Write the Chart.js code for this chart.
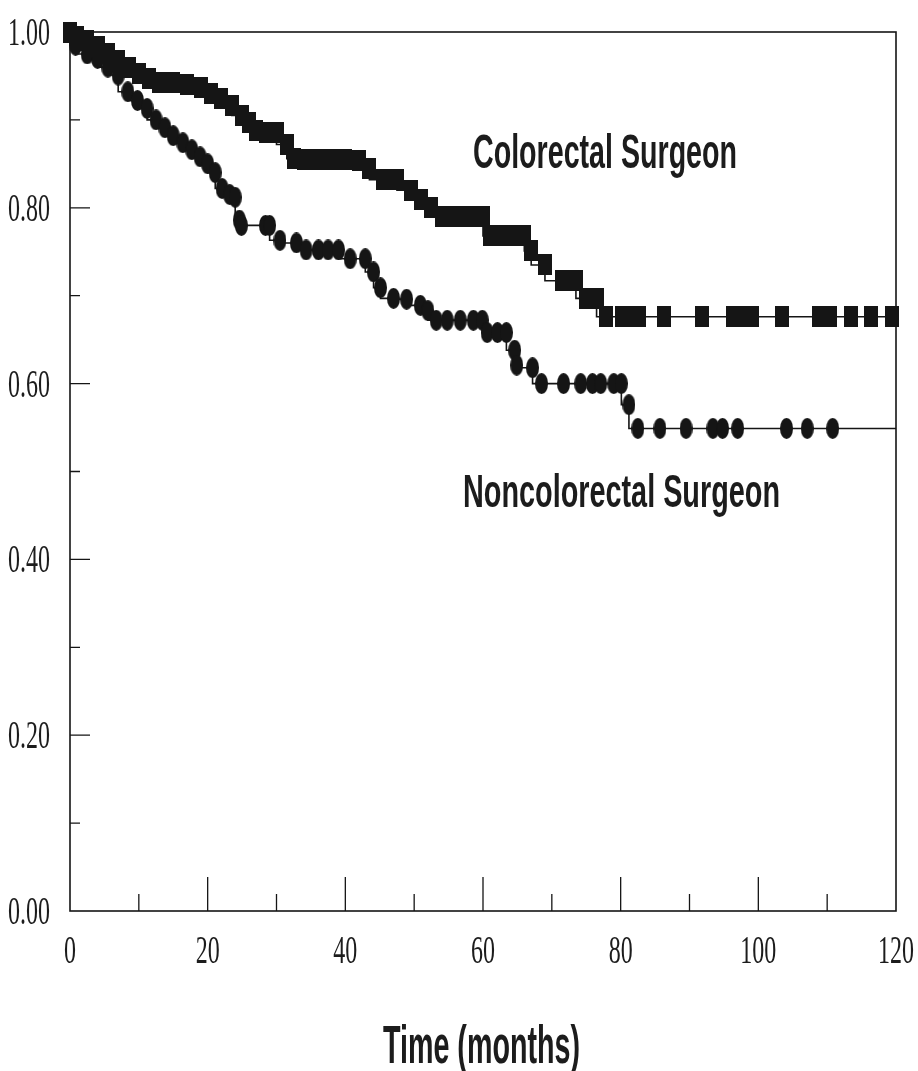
<!DOCTYPE html>
<html>
<head>
<meta charset="utf-8">
<script src="https://cdn.jsdelivr.net/npm/chart.js@4/dist/chart.umd.min.js"></script>
<style>
html,body{margin:0;padding:0;background:#fff;}
#wrap{width:918px;height:1071px;position:relative;}
</style>
</head>
<body>
<div id="wrap"><canvas id="c"></canvas></div>
<script>
// ---- data ----
const colorectalTime = [0, 1.0, 2.5, 4.0, 5.5, 7.0, 8.5, 10.0, 11.5, 13.0, 15.0, 17.0, 19.0, 20.5, 22.0, 23.5, 25.0, 26.0, 27.0, 28.5, 30.0, 31.5, 32.5, 34.0, 36.0, 38.0, 40.0, 42.0, 43.5, 45.5, 47.5, 49.5, 51.0, 52.5, 54.0, 55.5, 57.0, 58.5, 60.0, 61.0, 62.5, 64.5, 66.0, 67.0, 69.0, 71.5, 73.5, 75.0, 76.5, 77.8, 80.2, 81.5, 82.7, 86.3, 91.8, 96.3, 97.7, 99.1, 103.4, 108.8, 110.4, 113.5, 116.4, 119.4];
const colorectalSurv = [1.0, 0.995, 0.99, 0.983, 0.975, 0.968, 0.96, 0.953, 0.947, 0.943, 0.942, 0.94, 0.937, 0.93, 0.924, 0.916, 0.905, 0.897, 0.888, 0.886, 0.886, 0.872, 0.856, 0.855, 0.855, 0.855, 0.855, 0.854, 0.845, 0.832, 0.832, 0.82, 0.81, 0.80, 0.79, 0.79, 0.79, 0.79, 0.79, 0.768, 0.768, 0.768, 0.768, 0.751, 0.735, 0.717, 0.717, 0.697, 0.697, 0.676, 0.676, 0.676, 0.676, 0.676, 0.676, 0.676, 0.676, 0.676, 0.676, 0.676, 0.676, 0.676, 0.676, 0.676];
const noncolorectalTime = [0, 0.8, 2.5, 4.0, 5.5, 7.0, 8.4, 9.8, 11.2, 12.5, 13.8, 15.0, 16.4, 17.7, 18.9, 20.0, 21.1, 22.1, 23.2, 24.0, 24.6, 24.9, 28.4, 29.0, 30.5, 32.9, 34.3, 36.1, 37.5, 39.0, 40.7, 42.9, 44.1, 45.1, 47.0, 48.9, 50.9, 52.0, 53.2, 54.8, 56.7, 58.6, 59.9, 60.6, 62.1, 63.4, 64.6, 64.9, 67.2, 68.5, 71.7, 74.2, 75.9, 77.1, 79.0, 80.1, 81.2, 82.5, 85.7, 89.5, 93.4, 94.8, 97.0, 104.1, 107.1, 110.8, 120];
const noncolorectalSurv = [1.0, 0.985, 0.975, 0.97, 0.96, 0.951, 0.932, 0.922, 0.913, 0.90, 0.891, 0.882, 0.874, 0.866, 0.858, 0.85, 0.84, 0.822, 0.815, 0.812, 0.786, 0.78, 0.78, 0.78, 0.763, 0.76, 0.752, 0.752, 0.752, 0.752, 0.742, 0.742, 0.727, 0.709, 0.697, 0.696, 0.689, 0.683, 0.672, 0.672, 0.672, 0.672, 0.672, 0.658, 0.658, 0.658, 0.638, 0.621, 0.618, 0.60, 0.60, 0.60, 0.60, 0.60, 0.60, 0.60, 0.576, 0.549, 0.549, 0.549, 0.549, 0.549, 0.549, 0.549, 0.549, 0.549, 0.549];
const seriesNames = ['Colorectal Surgeon', 'Noncolorectal Surgeon'];
const xTickValues = [0, 20, 40, 60, 80, 100, 120];
const xTickLabels = ['0', '20', '40', '60', '80', '100', '120'];
const xMinorValues = [10, 30, 50, 70, 90, 110];
const yTickValues = [0, 0.2, 0.4, 0.6, 0.8, 1.0];
const yTickLabels = ['0.00', '0.20', '0.40', '0.60', '0.80', '1.00'];
const yMinorValues = [0.1, 0.3, 0.5, 0.7, 0.9];
const xAxisTitle = 'Time (months)';

// ---- marker images ----
const INK = '#151515';
function makeMarker(w, h, round) {
  const c = document.createElement('canvas');
  c.width = w; c.height = h;
  const g = c.getContext('2d');
  g.fillStyle = INK;
  if (round) { g.beginPath(); g.ellipse(w/2, h/2, w/2, h/2, 0, 0, Math.PI*2); g.fill(); }
  else g.fillRect(0, 0, w, h);
  return c;
}
const squareMark = makeMarker(14, 21, false);
const roundMark = makeMarker(13, 21, true);

function pts(ts, ss) { return ts.map((t, i) => ({x: t, y: ss[i]})); }

function drawScaled(ctx, text, x, y, font, sx, align) {
  ctx.save();
  ctx.font = font;
  ctx.translate(x, y);
  ctx.scale(sx, 1);
  ctx.textAlign = align;
  ctx.textBaseline = 'alphabetic';
  ctx.fillText(text, 0, 0);
  ctx.restore();
}
function drawFit(ctx, text, x, y, font, width) {
  ctx.save();
  ctx.font = font;
  const w = ctx.measureText(text).width;
  ctx.translate(x, y);
  ctx.scale(width / w, 1);
  ctx.textAlign = 'left';
  ctx.textBaseline = 'alphabetic';
  ctx.fillText(text, 0, 0);
  ctx.restore();
}

const framePlugin = {
  id: 'frame',
  beforeDatasetsDraw(chart) {
    const {ctx, chartArea: a, scales: {x, y}} = chart;
    ctx.save();
    ctx.strokeStyle = INK;
    ctx.lineWidth = 1.6;
    ctx.strokeRect(a.left, a.top, a.right - a.left, a.bottom - a.top);
    ctx.lineWidth = 1.3;
    ctx.beginPath();
    yTickValues.forEach(v => { if (v > 0 && v < 1) { const p = y.getPixelForValue(v); ctx.moveTo(a.left, p); ctx.lineTo(a.left + 20, p); } });
    yMinorValues.forEach(v => { const p = y.getPixelForValue(v); ctx.moveTo(a.left, p); ctx.lineTo(a.left + 10, p); });
    xTickValues.forEach(v => { if (v > 0 && v < 120) { const p = x.getPixelForValue(v); ctx.moveTo(p, a.bottom); ctx.lineTo(p, a.bottom - 34); } });
    xMinorValues.forEach(v => { const p = x.getPixelForValue(v); ctx.moveTo(p, a.bottom); ctx.lineTo(p, a.bottom - 17); });
    ctx.stroke();
    ctx.restore();
  },
  afterDatasetsDraw(chart) {
    const {ctx, chartArea: a, scales: {x, y}} = chart;
    ctx.save();
    ctx.fillStyle = '#1c1c1c';
    const serifY = '40px "Liberation Serif", "Times New Roman", serif';
    yTickValues.forEach((v, i) => {
      drawScaled(ctx, yTickLabels[i], a.left - 20, y.getPixelForValue(v) + 13, serifY, 0.6, 'right');
    });
    const serifX = '40px "Liberation Serif", "Times New Roman", serif';
    xTickValues.forEach((v, i) => {
      drawScaled(ctx, xTickLabels[i], x.getPixelForValue(v), a.bottom + 52, serifX, 0.6, 'center');
    });
    drawFit(ctx, seriesNames[0], 473, 168, 'bold 49px "Liberation Sans", Arial, sans-serif', 264);
    drawFit(ctx, seriesNames[1], 463, 507, 'bold 47px "Liberation Sans", Arial, sans-serif', 317);
    drawFit(ctx, xAxisTitle, 383, 1063, 'bold 54px "Liberation Sans", Arial, sans-serif', 197);
    ctx.restore();
  }
};

const nNon = noncolorectalTime.length;
new Chart(document.getElementById('c'), {
  type: 'line',
  data: {
    datasets: [
      {
        label: seriesNames[0],
        data: pts(colorectalTime, colorectalSurv),
        stepped: 'after',
        borderColor: INK,
        borderWidth: 1.6,
        pointStyle: squareMark,
        pointRadius: 7,
        fill: false,
        clip: false
      },
      {
        label: seriesNames[1],
        data: pts(noncolorectalTime, noncolorectalSurv),
        stepped: 'after',
        borderColor: INK,
        borderWidth: 1.6,
        pointStyle: roundMark,
        pointRadius: c => (c.dataIndex === nNon - 1 ? 0 : 7),
        fill: false,
        clip: false
      }
    ]
  },
  options: {
    responsive: true,
    maintainAspectRatio: false,
    animation: false,
    events: [],
    layout: {padding: {left: 70, right: 22, top: 32, bottom: 160}},
    scales: {
      x: {type: 'linear', min: 0, max: 120, display: false},
      y: {type: 'linear', min: 0, max: 1, display: false}
    },
    plugins: {legend: {display: false}, tooltip: {enabled: false}}
  },
  plugins: [framePlugin]
});
</script>
</body>
</html>
